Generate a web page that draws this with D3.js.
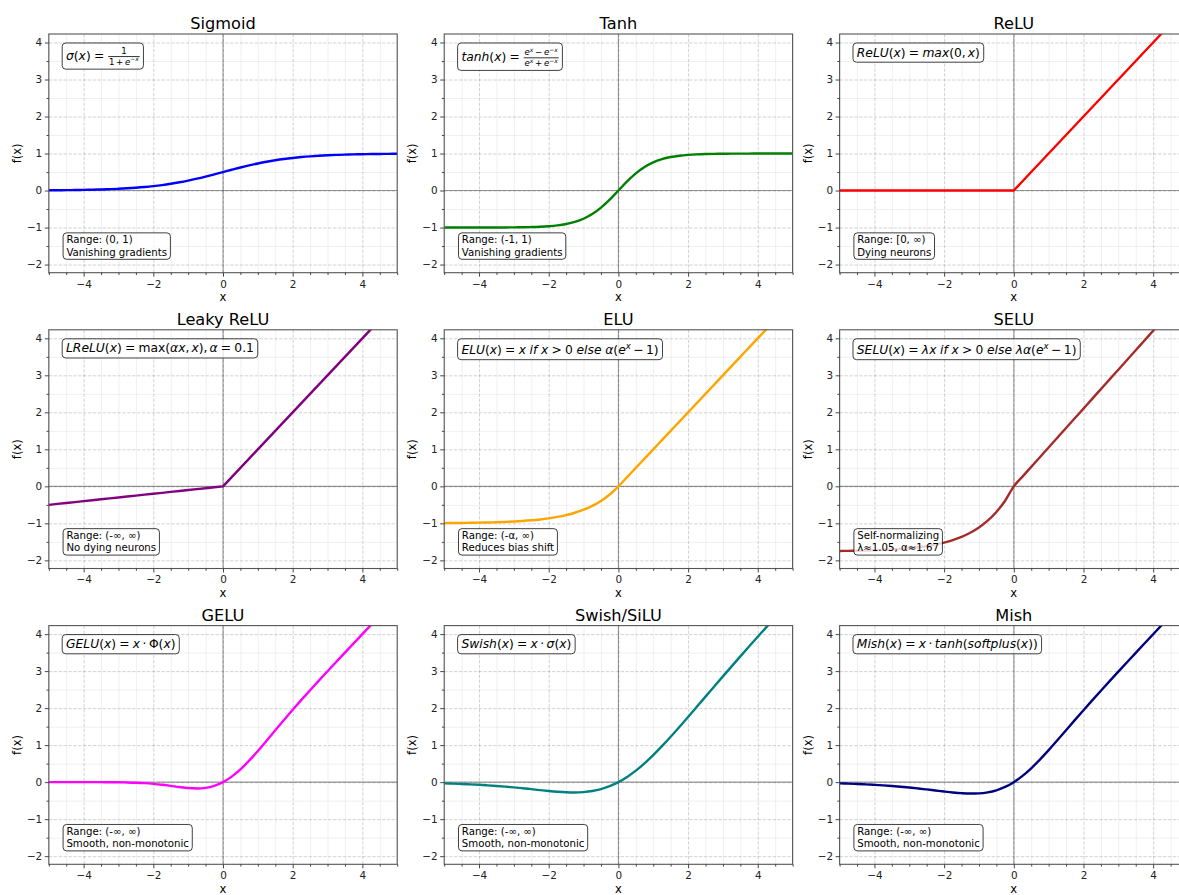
<!DOCTYPE html>
<html>
<head>
<meta charset="utf-8">
<script src="https://cdn.jsdelivr.net/npm/d3@7"></script>
<style>
  body { margin: 0; background: #fff; }
  text { font-family: "DejaVu Sans", sans-serif; }
</style>
</head>
<body>
<svg id="chart" width="1179" height="895"></svg>
<script>
// Sample grid shared by every activation curve
const xs = [-5, -4.75, -4.5, -4.25, -4, -3.75, -3.5, -3.25, -3, -2.75, -2.5, -2.25, -2, -1.75, -1.5, -1.25, -1, -0.75, -0.5, -0.25,
  0, 0.25, 0.5, 0.75, 1, 1.25, 1.5, 1.75, 2, 2.25, 2.5, 2.75, 3, 3.25, 3.5, 3.75, 4, 4.25, 4.5, 4.75, 5];

const sigmoidY = [0.0067, 0.0086, 0.0110, 0.0141, 0.0180, 0.0230, 0.0293, 0.0373, 0.0474, 0.0601, 0.0759, 0.0953, 0.1192, 0.1480, 0.1824, 0.2227, 0.2689, 0.3208, 0.3775, 0.4378,
  0.5, 0.5622, 0.6225, 0.6792, 0.7311, 0.7773, 0.8176, 0.8520, 0.8808, 0.9047, 0.9241, 0.9399, 0.9526, 0.9627, 0.9707, 0.9770, 0.9820, 0.9859, 0.9890, 0.9914, 0.9933];

const tanhY = [-0.9999, -0.9999, -0.9998, -0.9996, -0.9993, -0.9989, -0.9982, -0.9970, -0.9951, -0.9919, -0.9866, -0.9780, -0.9640, -0.9414, -0.9051, -0.8483, -0.7616, -0.6351, -0.4621, -0.2449,
  0, 0.2449, 0.4621, 0.6351, 0.7616, 0.8483, 0.9051, 0.9414, 0.9640, 0.9780, 0.9866, 0.9919, 0.9951, 0.9970, 0.9982, 0.9989, 0.9993, 0.9996, 0.9998, 0.9999, 0.9999];

const reluY = [0, 0, 0, 0, 0, 0, 0, 0, 0, 0, 0, 0, 0, 0, 0, 0, 0, 0, 0, 0,
  0, 0.25, 0.5, 0.75, 1, 1.25, 1.5, 1.75, 2, 2.25, 2.5, 2.75, 3, 3.25, 3.5, 3.75, 4, 4.25, 4.5, 4.75, 5];

const leakyReluY = [-0.5, -0.475, -0.45, -0.425, -0.4, -0.375, -0.35, -0.325, -0.3, -0.275, -0.25, -0.225, -0.2, -0.175, -0.15, -0.125, -0.1, -0.075, -0.05, -0.025,
  0, 0.25, 0.5, 0.75, 1, 1.25, 1.5, 1.75, 2, 2.25, 2.5, 2.75, 3, 3.25, 3.5, 3.75, 4, 4.25, 4.5, 4.75, 5];

const eluY = [-0.9933, -0.9913, -0.9889, -0.9857, -0.9817, -0.9765, -0.9698, -0.9612, -0.9502, -0.9361, -0.9179, -0.8946, -0.8647, -0.8262, -0.7769, -0.7135, -0.6321, -0.5276, -0.3935, -0.2212,
  0, 0.25, 0.5, 0.75, 1, 1.25, 1.5, 1.75, 2, 2.25, 2.5, 2.75, 3, 3.25, 3.5, 3.75, 4, 4.25, 4.5, 4.75, 5];

const seluY = [-1.7463, -1.7428, -1.7386, -1.7330, -1.7259, -1.7168, -1.7050, -1.6899, -1.6706, -1.6458, -1.6138, -1.5728, -1.5202, -1.4525, -1.3659, -1.2544, -1.1113, -0.9276, -0.6918, -0.3889,
  0, 0.2627, 0.5254, 0.7880, 1.0507, 1.3134, 1.5761, 1.8387, 2.1014, 2.3641, 2.6268, 2.8894, 3.1521, 3.4148, 3.6775, 3.9401, 4.2028, 4.4655, 4.7282, 4.9908, 5.2535];

const geluY = [0, 0, 0, 0, -0.0001, -0.0003, -0.0008, -0.0019, -0.0040, -0.0082, -0.0155, -0.0275, -0.0455, -0.0701, -0.1002, -0.1320, -0.1587, -0.1700, -0.1543, -0.1003,
  0, 0.1497, 0.3457, 0.5800, 0.8413, 1.1180, 1.3998, 1.6798, 1.9545, 2.2226, 2.4845, 2.7418, 2.9960, 3.2481, 3.4992, 3.7497, 3.9999, 4.25, 4.5, 4.75, 5];

const swishY = [-0.0335, -0.0409, -0.0495, -0.0599, -0.0719, -0.0863, -0.1026, -0.1212, -0.1423, -0.1653, -0.1898, -0.2144, -0.2384, -0.2590, -0.2736, -0.2784, -0.2689, -0.2406, -0.1888, -0.1095,
  0, 0.1405, 0.3112, 0.5094, 0.7311, 0.9716, 1.2264, 1.4910, 1.7616, 2.0356, 2.3103, 2.5847, 2.8577, 3.1288, 3.3975, 3.6638, 3.9281, 4.1901, 4.4505, 4.7092, 4.9665];

const mishY = [-0.0336, -0.0409, -0.0497, -0.0602, -0.0726, -0.0871, -0.1041, -0.1236, -0.1457, -0.1703, -0.1968, -0.2247, -0.2525, -0.2780, -0.2981, -0.3084, -0.3034, -0.2765, -0.2207, -0.1299,
  0, 0.1696, 0.3752, 0.6100, 0.8651, 1.1319, 1.4034, 1.6750, 1.9440, 2.2095, 2.4714, 2.7302, 2.9865, 3.2410, 3.4940, 3.7460, 3.9974, 4.2483, 4.4989, 4.7493, 4.9996];

// Axis ticks
const xTicks = [-4, -2, 0, 2, 4];
const yTicks = [-2, -1, 0, 1, 2, 3, 4];
const xMinor = [-5, -4.5, -3.5, -3, -2.5, -1.5, -1, -0.5, 0.5, 1, 1.5, 2.5, 3, 3.5, 4.5, 5];
const yMinor = [-1.5, -0.5, 0.5, 1.5, 2.5, 3.5];
const xDomain = [-5, 5];
const yDomain = [-2.22, 4.23];
const tickFmt = d3.format("d");

// Math-text building blocks
const I = s => ({ t: s, it: true });
const N = s => ({ t: s, it: false });
const S = em => ({ sp: em });
const SUP = (...a) => ({ sup: a });
const FR = (num, den) => ({ frac: [num, den] });
const REL = c => [S(0.26), N(c), S(0.26)];
const BIN = c => [S(0.2), N(c), S(0.2)];
const OFX = [N("("), I("x"), N(")")];
const EXPM1 = [N("("), I("e"), SUP(I("x")), ...BIN("−"), N("1"), N(")")];

const panels = [
  { title: "Sigmoid", color: "#0000ff", values: sigmoidY, linear: false,
    formula: [I("σ"), ...OFX, ...REL("="), FR([N("1")], [N("1"), ...BIN("+"), I("e"), SUP(N("−"), I("x"))])],
    note: ["Range: (0, 1)", "Vanishing gradients"] },
  { title: "Tanh", color: "#008000", values: tanhY, linear: false,
    formula: [I("tanh"), ...OFX, ...REL("="),
      FR([I("e"), SUP(I("x")), ...BIN("−"), I("e"), SUP(N("−"), I("x"))],
         [I("e"), SUP(I("x")), ...BIN("+"), I("e"), SUP(N("−"), I("x"))])],
    note: ["Range: (-1, 1)", "Vanishing gradients"] },
  { title: "ReLU", color: "#ff0000", values: reluY, linear: true,
    formula: [I("ReLU"), ...OFX, ...REL("="), I("max"), N("("), N("0"), N(","), S(0.17), I("x"), N(")")],
    note: ["Range: [0, ∞)", "Dying neurons"] },
  { title: "Leaky ReLU", color: "#800080", values: leakyReluY, linear: true,
    formula: [I("LReLU"), ...OFX, ...REL("="), N("max"), N("("), I("α"), I("x"), N(","), S(0.17), I("x"), N(")"), N(","), S(0.17), I("α"), ...REL("="), N("0.1")],
    note: ["Range: (-∞, ∞)", "No dying neurons"] },
  { title: "ELU", color: "#ffa500", values: eluY, linear: false,
    formula: [I("ELU"), ...OFX, ...REL("="), I("x"), S(0.3), I("if"), S(0.3), I("x"), ...REL(">"), N("0"), S(0.3), I("else"), S(0.3), I("α"), ...EXPM1],
    note: ["Range: (-α, ∞)", "Reduces bias shift"] },
  { title: "SELU", color: "#a52a2a", values: seluY, linear: false,
    formula: [I("SELU"), ...OFX, ...REL("="), I("λ"), I("x"), S(0.3), I("if"), S(0.3), I("x"), ...REL(">"), N("0"), S(0.3), I("else"), S(0.3), I("λ"), I("α"), ...EXPM1],
    note: ["Self-normalizing", "λ≈1.05, α≈1.67"] },
  { title: "GELU", color: "#ff00ff", values: geluY, linear: false,
    formula: [I("GELU"), ...OFX, ...REL("="), I("x"), ...BIN("·"), N("Φ"), ...OFX],
    note: ["Range: (-∞, ∞)", "Smooth, non-monotonic"] },
  { title: "Swish/SiLU", color: "#008080", values: swishY, linear: false,
    formula: [I("Swish"), ...OFX, ...REL("="), I("x"), ...BIN("·"), I("σ"), ...OFX],
    note: ["Range: (-∞, ∞)", "Smooth, non-monotonic"] },
  { title: "Mish", color: "#000080", values: mishY, linear: false,
    formula: [I("Mish"), ...OFX, ...REL("="), I("x"), ...BIN("·"), I("tanh"), N("("), I("softplus"), ...OFX, N(")")],
    note: ["Range: (-∞, ∞)", "Smooth, non-monotonic"] }
];

// Layout
const colLeft = [48.8, 444.2, 839.6];
const rowTop = [34, 329.8, 625.6];
const PW = 348.4, PH = 238.7;
const FS_TITLE = 16.2, FS_LABEL = 11.6, FS_TICK = 10.4, FS_MATH = 12.3, FS_NOTE = 10.2;

const svg = d3.select("#chart");

// Lay out a run of math-text items starting at x0 on the given baseline; returns its width.
function layoutMath(g, items, x0, base, fs) {
  let x = x0;
  for (const it of items) {
    if (it.sp !== undefined) {
      x += it.sp * fs;
    } else if (it.sup) {
      x += layoutMath(g, it.sup, x, base - 0.38 * fs, fs * 0.7);
    } else if (it.frac) {
      const f2 = fs * 0.7;
      const gn = g.append("g"), gd = g.append("g");
      const wn = layoutMath(gn, it.frac[0], 0, base - 0.53 * fs, f2);
      const wd = layoutMath(gd, it.frac[1], 0, base + 0.36 * fs, f2);
      const w = Math.max(wn, wd) + 0.24 * fs;
      gn.attr("transform", `translate(${x + (w - wn) / 2},0)`);
      gd.attr("transform", `translate(${x + (w - wd) / 2},0)`);
      g.append("line")
        .attr("x1", x + 0.06 * fs).attr("x2", x + w - 0.06 * fs)
        .attr("y1", base - 0.29 * fs).attr("y2", base - 0.29 * fs)
        .attr("stroke", "#000").attr("stroke-width", 0.065 * fs);
      x += w;
    } else {
      const t = g.append("text")
        .attr("x", x).attr("y", base)
        .attr("font-size", fs)
        .attr("font-style", it.it ? "italic" : "normal")
        .text(it.t);
      x += t.node().getComputedTextLength();
    }
  }
  return x - x0;
}

// Rounded semi-transparent box behind a text group
function boxBehind(parent, content, padX, padY) {
  const b = content.node().getBBox();
  parent.insert("rect", ":first-child")
    .attr("x", b.x - padX).attr("y", b.y - padY)
    .attr("width", b.width + 2 * padX).attr("height", b.height + 2 * padY)
    .attr("rx", 3.5).attr("ry", 3.5)
    .attr("fill", "#fff").attr("fill-opacity", 0.8)
    .attr("stroke", "#000").attr("stroke-opacity", 0.75).attr("stroke-width", 1);
  return { x: b.x - padX, y: b.y - padY, w: b.width + 2 * padX, h: b.height + 2 * padY };
}

panels.forEach((p, i) => {
  const r = Math.floor(i / 3), c = i % 3;
  const left = colLeft[c], top = rowTop[r], bottom = top + PH;
  const x = d3.scaleLinear().domain(xDomain).range([left, left + PW]);
  const y = d3.scaleLinear().domain(yDomain).range([bottom, top]);
  const g = svg.append("g");

  const clipId = "plot-clip-" + i;
  svg.append("clipPath").attr("id", clipId)
    .append("rect").attr("x", left).attr("y", top).attr("width", PW).attr("height", PH);

  // Minor grid
  const minorGrid = g.append("g").attr("class", "minor-grid");
  minorGrid.append("g").attr("transform", `translate(0,${bottom})`)
    .call(d3.axisBottom(x).tickValues(xMinor).tickSize(-PH).tickFormat(""));
  minorGrid.append("g").attr("transform", `translate(${left},0)`)
    .call(d3.axisLeft(y).tickValues(yMinor).tickSize(-PW).tickFormat(""));
  minorGrid.selectAll(".domain").remove();
  minorGrid.selectAll("line").attr("stroke", "#000").attr("stroke-opacity", 0.07).attr("stroke-width", 0.9);

  // Major grid (dashed)
  const majorGrid = g.append("g").attr("class", "major-grid");
  majorGrid.append("g").attr("transform", `translate(0,${bottom})`)
    .call(d3.axisBottom(x).tickValues(xTicks).tickSize(-PH).tickFormat(""));
  majorGrid.append("g").attr("transform", `translate(${left},0)`)
    .call(d3.axisLeft(y).tickValues(yTicks).tickSize(-PW).tickFormat(""));
  majorGrid.selectAll(".domain").remove();
  majorGrid.selectAll("line").attr("stroke", "#000").attr("stroke-opacity", 0.2)
    .attr("stroke-width", 0.9).attr("stroke-dasharray", "3.4,1.5");

  // Zero reference lines
  g.append("line").attr("x1", left).attr("x2", left + PW).attr("y1", y(0)).attr("y2", y(0))
    .attr("stroke", "#000").attr("stroke-opacity", 0.4).attr("stroke-width", 1.1);
  g.append("line").attr("x1", x(0)).attr("x2", x(0)).attr("y1", top).attr("y2", bottom)
    .attr("stroke", "#000").attr("stroke-opacity", 0.4).attr("stroke-width", 1.1);

  // Activation curve
  const line = d3.line()
    .x((d, j) => x(xs[j]))
    .y(d => y(d))
    .curve(p.linear ? d3.curveLinear : d3.curveMonotoneX);
  g.append("path").datum(p.values)
    .attr("clip-path", `url(#${clipId})`)
    .attr("d", line)
    .attr("fill", "none").attr("stroke", p.color).attr("stroke-width", 2.4)
    .attr("stroke-linejoin", "round");

  // Frame
  g.append("rect").attr("x", left).attr("y", top).attr("width", PW).attr("height", PH)
    .attr("fill", "none").attr("stroke", "#555").attr("stroke-width", 1.1);

  // Axes: major ticks with labels, minor ticks without
  const ax = g.append("g").attr("class", "axes");
  ax.append("g").attr("transform", `translate(0,${bottom})`)
    .call(d3.axisBottom(x).tickValues(xTicks).tickFormat(tickFmt).tickSize(4).tickPadding(3.6));
  ax.append("g").attr("transform", `translate(0,${bottom})`)
    .call(d3.axisBottom(x).tickValues(xMinor).tickSize(2.3).tickFormat(""));
  ax.append("g").attr("transform", `translate(${left},0)`)
    .call(d3.axisLeft(y).tickValues(yTicks).tickFormat(tickFmt).tickSize(4).tickPadding(2.6));
  ax.append("g").attr("transform", `translate(${left},0)`)
    .call(d3.axisLeft(y).tickValues(yMinor).tickSize(2.3).tickFormat(""));
  ax.selectAll(".domain").remove();
  ax.selectAll(".tick line").attr("stroke", "#333").attr("stroke-width", 0.9);
  ax.selectAll(".tick text").attr("font-size", FS_TICK).attr("fill", "#222")
    .attr("font-family", "DejaVu Sans");

  // Title and axis labels
  svg.append("text").attr("x", left + PW / 2).attr("y", top - 4.8)
    .attr("text-anchor", "middle").attr("font-size", FS_TITLE).text(p.title);
  svg.append("text").attr("x", left + PW / 2).attr("y", bottom + 28.5)
    .attr("text-anchor", "middle").attr("font-size", FS_LABEL).text("x");
  svg.append("text").attr("transform", `translate(${left - 28},${top + PH / 2}) rotate(-90)`)
    .attr("text-anchor", "middle").attr("font-size", FS_LABEL).text("f(x)");

  // Formula box (top-left)
  const fBox = svg.append("g");
  const fText = fBox.append("g");
  layoutMath(fText, p.formula, 0, 0, FS_MATH);
  const fb = boxBehind(fBox, fText, 3.8, 2.6);
  fBox.attr("transform", `translate(${left + 13.4 - fb.x},${top + 9 - fb.y})`);

  // Note box (bottom-left)
  const nBox = svg.append("g");
  const nText = nBox.append("g");
  p.note.forEach((s, k) => {
    nText.append("text").attr("x", 0).attr("y", k * FS_NOTE * 1.2)
      .attr("font-size", FS_NOTE).text(s);
  });
  const nb = boxBehind(nBox, nText, 3.3, 1.6);
  nBox.attr("transform", `translate(${left + 14.3 - nb.x},${bottom - 13.4 - (nb.y + nb.h)})`);
});
</script>
</body>
</html>
